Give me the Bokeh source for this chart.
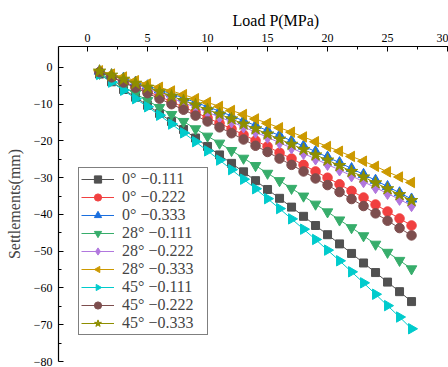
import math
from bokeh.plotting import figure
from bokeh.models import Range1d, Title, CustomJSTickFormatter, FixedTicker, ColumnDataSource
from bokeh.embed import file_html
from bokeh.resources import INLINE

# ---------------- data ----------------
load = list(range(1, 28))  # Load P (MPa)

s_0_111 = [-1.8, -3.9, -6.0, -8.1, -10.3, -12.5, -14.7, -16.9, -19.2, -21.5, -23.8, -26.1, -28.4, -30.8,
           -33.2, -35.6, -38.0, -40.5, -43.0, -45.5, -48.0, -50.6, -53.2, -55.8, -58.4, -61.0, -63.7]
s_0_222 = [-1.3, -2.6, -3.9, -5.2, -6.5, -7.9, -9.3, -10.8, -12.2, -13.7, -15.2, -16.7, -18.3, -19.9,
           -21.5, -23.2, -24.8, -26.5, -28.3, -30.0, -31.8, -33.6, -35.4, -37.3, -39.2, -41.1, -43.0]
s_0_333 = [-1.0, -2.0, -2.9, -4.0, -5.0, -6.1, -7.2, -8.3, -9.5, -10.7, -11.9, -13.2, -14.5, -15.8,
           -17.2, -18.5, -20.0, -21.4, -22.9, -24.4, -25.9, -27.5, -29.1, -30.7, -32.4, -34.1, -35.8]
s_28_111 = [-1.6, -3.4, -5.3, -7.1, -9.0, -10.9, -12.8, -14.7, -16.7, -18.7, -20.6, -22.6, -24.7, -26.7,
            -28.8, -30.8, -32.9, -35.0, -37.2, -39.3, -41.5, -43.6, -45.8, -48.1, -50.3, -52.5, -54.8]
s_28_222 = [-1.1, -2.2, -3.4, -4.6, -5.8, -7.0, -8.3, -9.6, -10.8, -12.2, -13.5, -14.8, -16.2, -17.6,
            -19.0, -20.5, -21.9, -23.4, -24.9, -26.4, -27.9, -29.5, -31.1, -32.7, -34.3, -35.9, -37.6]
s_28_333 = [-0.9, -1.8, -2.6, -3.6, -4.5, -5.4, -6.4, -7.4, -8.5, -9.5, -10.6, -11.7, -12.8, -14.0,
            -15.2, -16.4, -17.6, -18.9, -20.2, -21.5, -22.8, -24.2, -25.5, -26.9, -28.4, -29.8, -31.3]
s_45_111 = [-1.9, -4.0, -6.2, -8.5, -10.7, -13.0, -15.4, -17.8, -20.2, -22.7, -25.2, -27.8, -30.4, -33.0,
            -35.7, -38.4, -41.2, -44.0, -46.8, -49.7, -52.6, -55.6, -58.6, -61.7, -64.8, -67.9, -71.1]
s_45_222 = [-1.3, -2.7, -4.1, -5.5, -7.0, -8.5, -10.0, -11.5, -13.1, -14.7, -16.3, -17.9, -19.6, -21.3,
            -23.0, -24.8, -26.5, -28.3, -30.2, -32.0, -33.9, -35.8, -37.7, -39.7, -41.7, -43.7, -45.7]
s_45_333 = [-1.0, -2.1, -3.2, -4.3, -5.4, -6.6, -7.8, -9.0, -10.2, -11.5, -12.7, -14.0, -15.4, -16.7,
            -18.1, -19.5, -20.9, -22.3, -23.8, -25.2, -26.7, -28.3, -29.8, -31.4, -33.0, -34.6, -36.2]

series_labels = ["0° −0.111", "0° −0.222", "0° −0.333",
                 "28° −0.111", "28° −0.222", "28° −0.333",
                 "45° −0.111", "45° −0.222", "45° −0.333"]
series_values = [s_0_111, s_0_222, s_0_333, s_28_111, s_28_222, s_28_333, s_45_111, s_45_222, s_45_333]

x_ticks = [0, 5, 10, 15, 20, 25, 30]
x_minor = [2.5, 7.5, 12.5, 17.5, 22.5, 27.5]
y_ticks = [-80, -70, -60, -50, -40, -30, -20, -10, 0]
y_minor = [-75, -65, -55, -45, -35, -25, -15, -5]

# ---------------- styles ----------------
colors = ["#515151", "#F14040", "#1A6FDF", "#37AD6B", "#B177DE", "#CC9900", "#00CBCC", "#7D4E4E", "#8E8E00"]
markers = ["square", "circle", "triangle", "inverted_triangle", "diamond", "left", "right", "circle", "star"]
sizes = [8, 9.5, 10.5, 10.5, 12, 10.5, 10.5, 9.5, 13]

SERIF = "Liberation Serif"

p = figure(width=448, height=367,
           x_range=Range1d(-2.42, 30.08), y_range=Range1d(-80, 5.7),
           x_axis_location="above", y_axis_location="left",
           output_backend="svg", toolbar_location=None,
           min_border_left=58, min_border_top=46, min_border_right=0, min_border_bottom=6)
p.outline_line_color = None
p.xgrid.visible = False
p.ygrid.visible = False
p.background_fill_color = "white"
p.border_fill_color = "white"

has_ngon = hasattr(p, "ngon")

for vals, lab, c, m, s in zip(series_values, series_labels, colors, markers, sizes):
    src = ColumnDataSource(dict(x=load, y=vals))
    p.line("x", "y", source=src, line_color=c, line_width=1, legend_label=lab)
    if m in ("left", "right"):
        if has_ngon:
            ang = math.pi / 2 if m == "left" else -math.pi / 2
            p.ngon("x", "y", source=src, radius=6, radius_units="screen", n=3, angle=ang,
                   fill_color=c, line_color=c, legend_label=lab)
        else:
            ang = math.pi / 2 if m == "left" else -math.pi / 2
            p.scatter("x", "y", source=src, marker="triangle", size=s, angle=ang,
                      fill_color=c, line_color=c, legend_label=lab)
    else:
        p.scatter("x", "y", source=src, marker=m, size=s, fill_color=c, line_color=c, legend_label=lab)

# axes
xa = p.xaxis[0]
xa.ticker = FixedTicker(ticks=x_ticks, minor_ticks=x_minor)
ya = p.yaxis[0]
ya.ticker = FixedTicker(ticks=y_ticks, minor_ticks=y_minor)
ya.formatter = CustomJSTickFormatter(code="return tick < 0 ? '\u2212' + Math.abs(tick) : String(tick);")
ya.axis_label = "Settlements(mm)"
ya.axis_label_text_font = SERIF
ya.axis_label_text_font_size = "16px"
ya.axis_label_text_font_style = "normal"
ya.axis_label_standoff = 8
for ax in (xa, ya):
    ax.axis_line_color = "black"
    ax.axis_line_width = 1.2
    ax.major_tick_in = 5
    ax.major_tick_out = 0
    ax.minor_tick_in = 3
    ax.minor_tick_out = 0
    ax.major_tick_line_color = "black"
    ax.minor_tick_line_color = "black"
    ax.major_label_text_font = SERIF
    ax.major_label_text_font_size = "12px"
    ax.major_label_text_color = "black"
    ax.major_label_standoff = 6
xa.major_label_standoff = 5

# x-axis title (the original frame extends past the cropped right edge, so it sits right of centre)
p.add_layout(Title(text="Load P(MPa)", align="left", offset=174, text_font=SERIF,
                   text_font_size="16px", text_font_style="normal", text_color="black",
                   standoff=4), "above")

leg = p.legend[0]
leg.location = (20, 26)
leg.label_text_font = SERIF
leg.label_text_font_size = "16px"
leg.label_height = 18
leg.glyph_height = 18
leg.glyph_width = 33
leg.label_standoff = 8
leg.label_width = 83
leg.spacing = 0
leg.padding = 2
leg.margin = 0
leg.border_line_color = "black"
leg.border_line_width = 1
leg.background_fill_alpha = 1.0

open("out.html", "w").write(file_html(p, INLINE))
